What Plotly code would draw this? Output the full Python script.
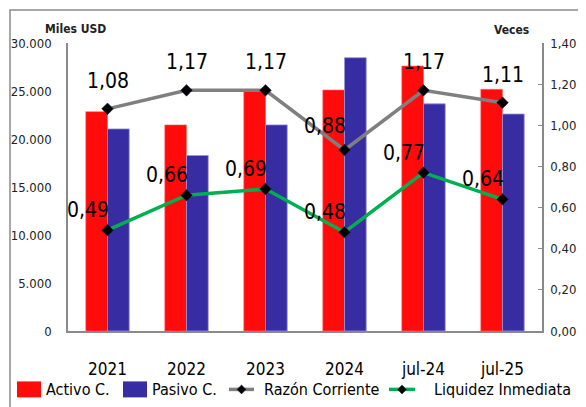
import plotly.graph_objects as go

categories = ["2021", "2022", "2023", "2024", "jul-24", "jul-25"]
activo_c = [22850, 21470, 25110, 25110, 27600, 25180]
pasivo_c = [21050, 18280, 21470, 28470, 23660, 22600]
razon_corriente = [1.08, 1.17, 1.17, 0.88, 1.17, 1.11]
liquidez_inmediata = [0.49, 0.66, 0.69, 0.48, 0.77, 0.64]
left_ticks = [0, 5000, 10000, 15000, 20000, 25000, 30000]
right_ticks = [0.0, 0.2, 0.4, 0.6, 0.8, 1.0, 1.2, 1.4]

FONT = "Liberation Sans Narrow, DejaVu Sans Condensed, Arial Narrow, sans-serif"
AXIS_COLOR = "#8a8a8a"
RED = "#ff0b0b"
BLUE = "#372ca2"
GRAY = "#7f7f7f"
GREEN = "#00b050"

# plot area geometry (page pixels, the page body adds an 8px offset)
W, H = 578, 399
ML, MT, PW, PH = 60, 35, 474, 288.5
OFF = 8

def px(x):   # page x pixel -> paper x
    return (x - OFF - ML) / PW

def py(y):   # page y pixel -> paper y
    return (MT + PH - (y - OFF)) / PH

def fmt(v):
    return f"{v:.2f}".replace(".", ",")

def fmt_thousands(v):
    return f"{v:,d}".replace(",", ".")

fig = go.Figure()
fig.add_trace(go.Bar(
    x=categories, y=activo_c, name="Activo C.", showlegend=False,
    marker=dict(color=RED, line=dict(color="#ff6f6f", width=0.6)),
))
fig.add_trace(go.Bar(
    x=categories, y=pasivo_c, name="Pasivo C.", showlegend=False,
    marker=dict(color=BLUE, line=dict(color="#9a93d6", width=0.8)),
))
fig.add_trace(go.Scatter(
    x=categories, y=razon_corriente, name="Razón Corriente", yaxis="y2",
    mode="lines+markers", showlegend=False,
    line=dict(color=GRAY, width=3.5),
    marker=dict(symbol="diamond", size=9, color="black", line=dict(color="#1a1a4a", width=0.5)),
))
fig.add_trace(go.Scatter(
    x=categories, y=liquidez_inmediata, name="Liquidez Inmediata", yaxis="y2",
    mode="lines+markers", showlegend=False,
    line=dict(color=GREEN, width=3.5),
    marker=dict(symbol="diamond", size=9, color="black", line=dict(color="#1a1a4a", width=0.5)),
))

annotations = []
for i, v in enumerate(razon_corriente):
    left = v < 1.0
    annotations.append(dict(
        x=i, y=v, xref="x", yref="y2", text=fmt(v), showarrow=False,
        xshift=-20 if left else 0, yshift=24 if left else 28,
        font=dict(family=FONT, size=21, color="black"),
    ))
for i, v in enumerate(liquidez_inmediata):
    annotations.append(dict(
        x=i, y=v, xref="x", yref="y2", text=fmt(v), showarrow=False,
        xshift=-20, yshift=20,
        font=dict(family=FONT, size=21, color="black"),
    ))

annotations += [
    dict(x=px(75), y=py(29), xref="paper", yref="paper", text="<b>Miles USD</b>",
         showarrow=False, xanchor="center", yanchor="middle",
         font=dict(family=FONT, size=12, color="#222")),
    dict(x=px(511), y=py(30), xref="paper", yref="paper", text="<b>Veces</b>",
         showarrow=False, xanchor="center", yanchor="middle",
         font=dict(family=FONT, size=12, color="#222")),
    dict(x=px(260), y=py(9), xref="paper", yref="paper",
         text="<b>INDICADORES DE LIQUIDEZ (miles USD)</b>",
         showarrow=False, xanchor="right", yanchor="bottom",
         font=dict(family="Liberation Serif, serif", size=12, color="black")),
]

# custom legend (swatches + real text labels taken from the trace names)
LEG_Y = 390
shapes = []
swatches = [
    ("bar", RED, 17, 41, 44),
    ("bar", BLUE, 123, 147, 150),
    ("line", GRAY, 229, 254, 262),
    ("line", GREEN, 389, 415, 432),
]
for trace, (kind, color, x0, x1, tx) in zip(fig.data, swatches):
    if kind == "bar":
        shapes.append(dict(type="rect", xref="paper", yref="paper",
                           x0=px(x0), x1=px(x1), y0=py(LEG_Y + 8), y1=py(LEG_Y - 8),
                           fillcolor=color, line=dict(width=0)))
    else:
        shapes.append(dict(type="line", xref="paper", yref="paper",
                           x0=px(x0), x1=px(x1), y0=py(LEG_Y), y1=py(LEG_Y),
                           line=dict(color=color, width=3.5)))
        cx = (x0 + x1) / 2
        d = 4.5
        shapes.append(dict(type="path", xref="paper", yref="paper",
                           path=(f"M {px(cx - d)},{py(LEG_Y)} L {px(cx)},{py(LEG_Y - d)} "
                                 f"L {px(cx + d)},{py(LEG_Y)} L {px(cx)},{py(LEG_Y + d)} Z"),
                           fillcolor="black", line=dict(color="#1a1a4a", width=0.5)))
    annotations.append(dict(x=px(tx), y=py(LEG_Y), xref="paper", yref="paper",
                            text=trace.name, showarrow=False,
                            xanchor="left", yanchor="middle",
                            font=dict(family=FONT, size=16, color="black")))

shapes.append(dict(
    type="rect", xref="paper", yref="paper",
    x0=px(10), y0=py(470), x1=px(700), y1=py(10),
    line=dict(color="#8c8c8c", width=1.5), fillcolor="rgba(0,0,0,0)", layer="below",
))

fig.update_layout(
    width=W, height=H,
    margin=dict(l=ML, r=W - ML - PW, t=MT, b=H - MT - PH, autoexpand=False),
    paper_bgcolor="white", plot_bgcolor="white",
    barmode="group", bargap=0.45, bargroupgap=0,
    font=dict(family=FONT, color="#222"),
    showlegend=False,
    xaxis=dict(
        type="category", categoryorder="array", categoryarray=categories,
        range=[-0.5, len(categories) - 0.5], autorange=False,
        showline=True, linecolor=AXIS_COLOR, linewidth=1.5,
        showgrid=False, ticks="outside", ticklen=22, tickcolor="rgba(0,0,0,0)",
        tickfont=dict(family=FONT, size=17, color="black"),
    ),
    yaxis=dict(
        range=[0, 30000], tickvals=left_ticks, ticktext=[fmt_thousands(v) for v in left_ticks],
        showline=True, linecolor=AXIS_COLOR, linewidth=1.5,
        showgrid=False, zeroline=False, ticks="outside", ticklen=12, tickcolor="rgba(0,0,0,0)",
        tickfont=dict(family=FONT, size=13, color="#222"),
    ),
    yaxis2=dict(
        range=[0, 1.4], tickvals=right_ticks, ticktext=[fmt(v) for v in right_ticks],
        overlaying="y", side="right",
        showline=True, linecolor=AXIS_COLOR, linewidth=1.5,
        showgrid=False, zeroline=False, ticks="inside", ticklen=4, tickcolor=AXIS_COLOR,
        ticklabelstandoff=4,
        tickfont=dict(family=FONT, size=13, color="#222"),
    ),
    annotations=annotations,
    shapes=shapes,
)

fig.write_html("out.html")
